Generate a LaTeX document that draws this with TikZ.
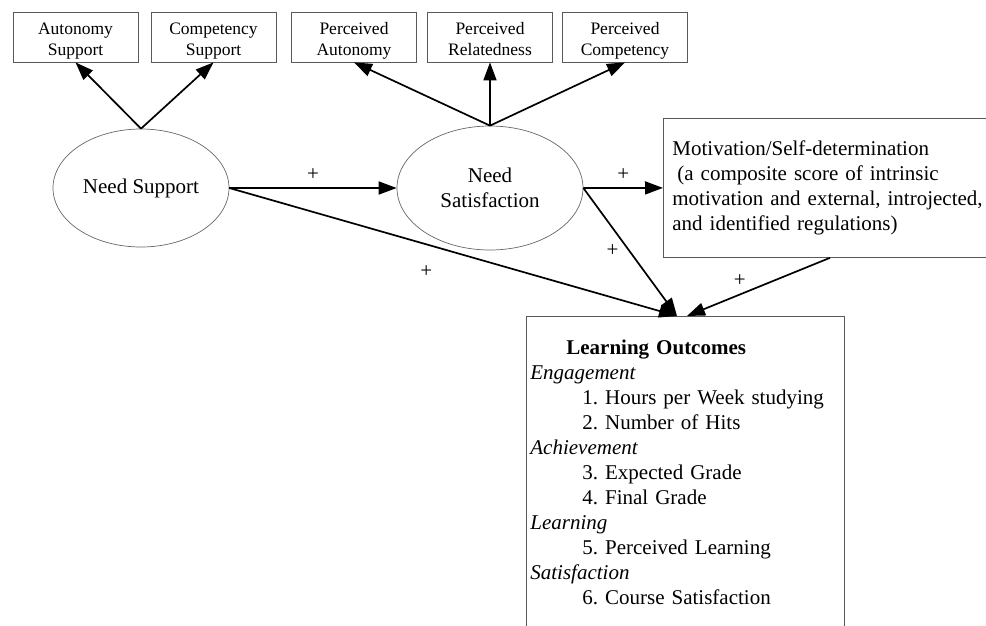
\documentclass[tikz,border=0pt]{standalone}
\usepackage{fontspec}
\setmainfont{Liberation Serif}
\frenchspacing
\usetikzlibrary{shapes.geometric,arrows.meta,positioning}
\begin{document}
\begin{tikzpicture}[x=1pt,y=-1pt,
        every node/.style={font=\fontsize{21}{25}\selectfont},
        small box/.style={draw=black!65,line width=0.8pt,rectangle,minimum width=125pt,minimum height=50pt,
            align=center,inner sep=0pt,font=\fontsize{17.5}{21}\selectfont,
            text height=36pt,text depth=0pt},
        latent/.style={draw=black!60,line width=0.7pt,ellipse,inner sep=0pt,align=center},
        big box/.style={draw=black!65,line width=0.8pt,rectangle,anchor=north west,align=left},
        link/.style={line width=1.7pt,-{Triangle[length=18pt,width=13pt]}},
        plus/.style={inner sep=7pt}]
    \useasboundingbox (0,0) rectangle (986,625);
    \node[small box] (as) at (75.5,37) {Autonomy\\Support};
    \node[small box] (cs) at (213.5,37) {Competency\\Support};
    \node[small box] (pa) at (354,37) {Perceived\\Autonomy};
    \node[small box] (pr) at (490,37) {Perceived\\Relatedness};
    \node[small box] (pc) at (625,37) {Perceived\\Competency};
    \node[latent,minimum width=176pt,minimum height=118pt] (ns) at (141,188) {Need Support};
    \node[latent,minimum width=186pt,minimum height=124pt] (nsat) at (490,188) {Need\\Satisfaction};
    \node[big box,minimum height=139pt,text width=330pt,inner xsep=9pt] (mot) at (663,118)
        {Motivation/Self-determination\\
        \hspace*{5pt}(a composite score of intrinsic\\
        motivation and external, introjected,\\
        and identified regulations)};
    \node[big box,text width=310pt,inner xsep=4pt,inner ysep=24pt] (lo) at (526,316)
        {\hspace*{36pt}\textbf{Learning Outcomes}\\
        \textit{Engagement}\\
        \hspace*{52pt}1. Hours per Week studying\\
        \hspace*{52pt}2. Number of Hits\\
        \textit{Achievement}\\
        \hspace*{52pt}3. Expected Grade\\
        \hspace*{52pt}4. Final Grade\\
        \textit{Learning}\\
        \hspace*{52pt}5. Perceived Learning\\
        \textit{Satisfaction}\\
        \hspace*{52pt}6. Course Satisfaction\rule[-20pt]{0pt}{0pt}};
    \coordinate (lo in) at ([xshift=151pt]lo.north west);
    \coordinate (lo in2) at ([xshift=161pt]lo.north west);
    \coordinate (mot out) at ([xshift=167pt]mot.south west);
    \draw[link] (ns.north) -- (as.south);
    \draw[link] (ns.north) -- (cs.south);
    \draw[link] (nsat.north) -- (pa.south);
    \draw[link] (nsat.north) -- (pr.south);
    \draw[link] (nsat.north) -- (pc.south);
    \draw[link] (ns.east) -- node[plus,above] {+} (nsat.west);
    \draw[link] (nsat.east) -- node[plus,above] {+} (mot.west);
    \draw[link] (ns.east) -- node[plus,pos=.44,below=13pt] {+} (lo in);
    \draw[link] (nsat.east) -- node[plus,pos=.49,left=3pt] {+} (lo in);
    \draw[link] (mot out) -- node[plus,pos=.63,above] {+} (lo in2);
\end{tikzpicture}
\end{document}
